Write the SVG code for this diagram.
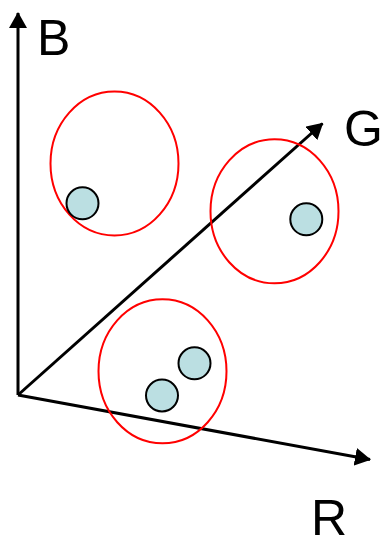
<svg xmlns="http://www.w3.org/2000/svg" width="386" height="537" viewBox="0 0 386 537">
<style>
.axis{stroke:#000;stroke-width:3;fill:none}
.cluster{fill:none;stroke:#ff0000;stroke-width:2}
.pt{fill:#bbdfe2;stroke:#000;stroke-width:2}
.lbl{font-family:"Liberation Sans",Arial,sans-serif;font-size:50px;fill:#000}
</style>
<defs>
<marker id="arr" markerUnits="userSpaceOnUse" markerWidth="16" markerHeight="18" viewBox="0 0 16 18" refX="15" refY="9" orient="auto">
<path d="M0,0 L16,9 L0,18 Z" fill="#000"/>
</marker>
</defs>
<rect width="386" height="537" fill="#fff"/>
<g id="connectors">
<line class="axis" x1="18" y1="395" x2="18" y2="13" marker-end="url(#arr)"/>
<line class="axis" x1="18" y1="395" x2="322.5" y2="123.5" marker-end="url(#arr)"/>
<line class="axis" x1="18" y1="395" x2="370" y2="459.5" marker-end="url(#arr)"/>
</g>
<g id="cluster1"><ellipse class="cluster" cx="114.5" cy="163.5" rx="64" ry="72"/></g>
<g id="cluster2"><ellipse class="cluster" cx="274.5" cy="211.3" rx="64" ry="72"/></g>
<g id="cluster3"><ellipse class="cluster" cx="162.5" cy="371.3" rx="64" ry="72"/></g>
<g id="point1"><circle class="pt" cx="82.5" cy="203.3" r="16"/></g>
<g id="point2"><circle class="pt" cx="306.3" cy="219.3" r="16"/></g>
<g id="point3"><circle class="pt" cx="194.5" cy="363.3" r="16"/></g>
<g id="point4"><circle class="pt" cx="162" cy="395.5" r="16"/></g>
<g id="labelB"><text class="lbl" x="37" y="55">B</text></g>
<g id="labelG"><text class="lbl" x="344" y="146">G</text></g>
<g id="labelR"><text class="lbl" x="311" y="535">R</text></g>
</svg>
